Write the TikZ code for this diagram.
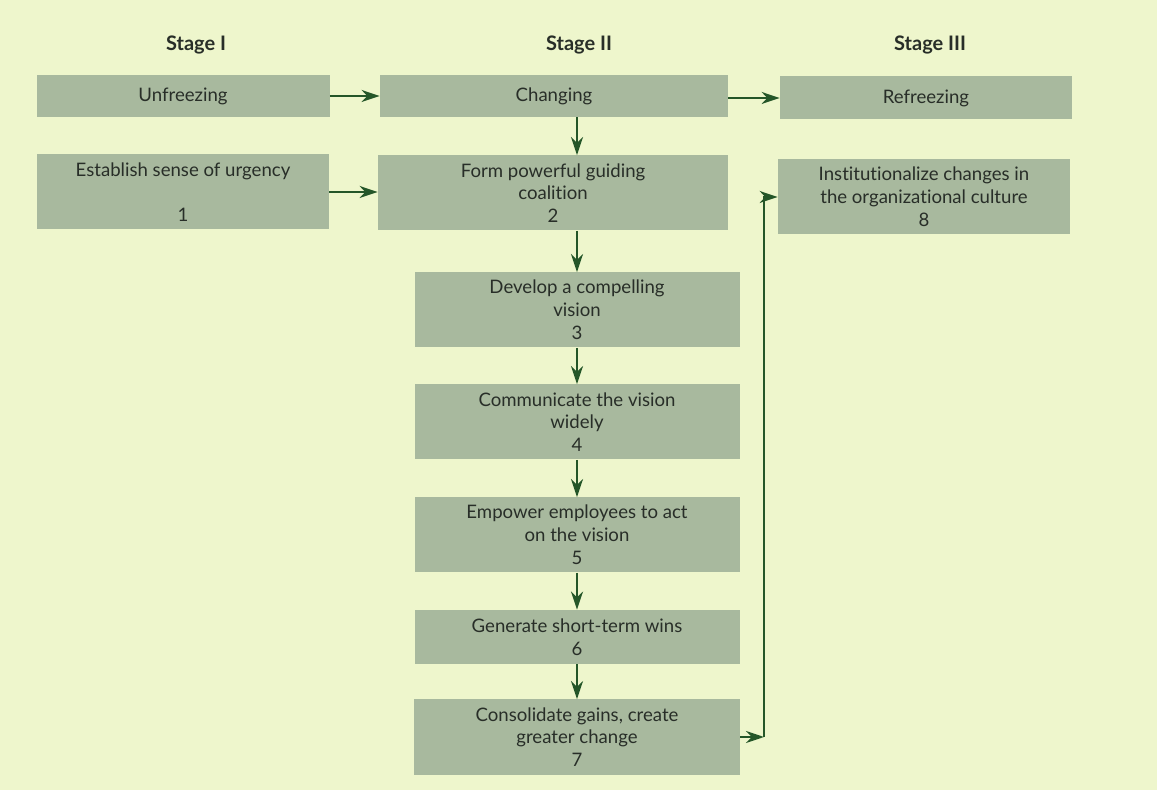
\documentclass[tikz,border=0pt]{standalone}
\usepackage{fontspec}
\setmainfont{Lato}[Ligatures=NoCommon]
\usetikzlibrary{arrows.meta}
\definecolor{page}{RGB}{238,246,204}
\definecolor{boxgrey}{RGB}{168,185,158}
\definecolor{ink}{RGB}{40,46,40}
\definecolor{arrowgreen}{RGB}{36,86,40}

\begin{document}
\begin{tikzpicture}[x=0.5pt,y=-0.5pt,
  main/.style = {fill=boxgrey, text=ink, align=center, inner sep=0pt, minimum height=37.5pt, font=\fontsize{9.3}{11.4}\selectfont},
  stage/.style = {text=ink, font=\bfseries\fontsize{10}{12}\selectfont},
  arr/.style = {draw=arrowgreen, line width=1.2pt, -{Stealth[length=9pt,width=6pt]}}]
\fill[page] (0,0) rectangle (1157,790);
\node[stage] (s1) at (196,45) {Stage I};
\node[stage] (s2) at (579,45) {Stage II};
\node[stage] (s3) at (930,45) {Stage III};
\node[main] (u) at (183,96) [minimum width=146.5pt, minimum height=21pt] {Unfreezing};
\node[main] (c) at (554,96) [minimum width=174pt, minimum height=21pt] {Changing};
\node[main] (r) at (926,98) [minimum width=146pt, minimum height=21.5pt] {Refreezing};
\node[main] (1) at (183,192) [minimum width=146pt] {Establish sense of urgency\\[11.4pt]1};
\node[main] (2) at (553,193) [minimum width=175pt] {Form powerful guiding\\coalition\\2};
\node[main] (8) at (924,197) [minimum width=146pt] {Institutionalize changes in\\the organizational culture\\8};
\node[main] (3) at (577,310) [minimum width=162.5pt] {Develop a compelling\\vision\\3};
\node[main] (4) at (577,422) [minimum width=162.5pt] {Communicate the vision\\widely\\4};
\node[main] (5) at (577,535) [minimum width=162.5pt] {Empower employees to act\\on the vision\\5};
\node[main] (6) at (577,637) [minimum width=162.5pt, minimum height=27pt] {Generate short-term wins\\6};
\node[main] (7) at (577,737) [minimum width=163pt] {Consolidate gains, create\\greater change\\7};
\coordinate (j) at (764,737);
\draw[arr] (u) -- (c);
\draw[arr] (c.east |- r) -- (r);
\draw[arr] (1) -- (2.west |- 1);
\draw[arr] (c.south -| 3) -- (2.north -| 3);
\draw[arr] (2.south -| 3) -- (3);
\draw[arr] (3) -- (4);
\draw[arr] (4) -- (5);
\draw[arr] (5) -- (6);
\draw[arr] (6) -- (7);
\draw[arr] (7.east |- j) -- (j);
\draw[arr] (j) |- (8.west);
\end{tikzpicture}
\end{document}
